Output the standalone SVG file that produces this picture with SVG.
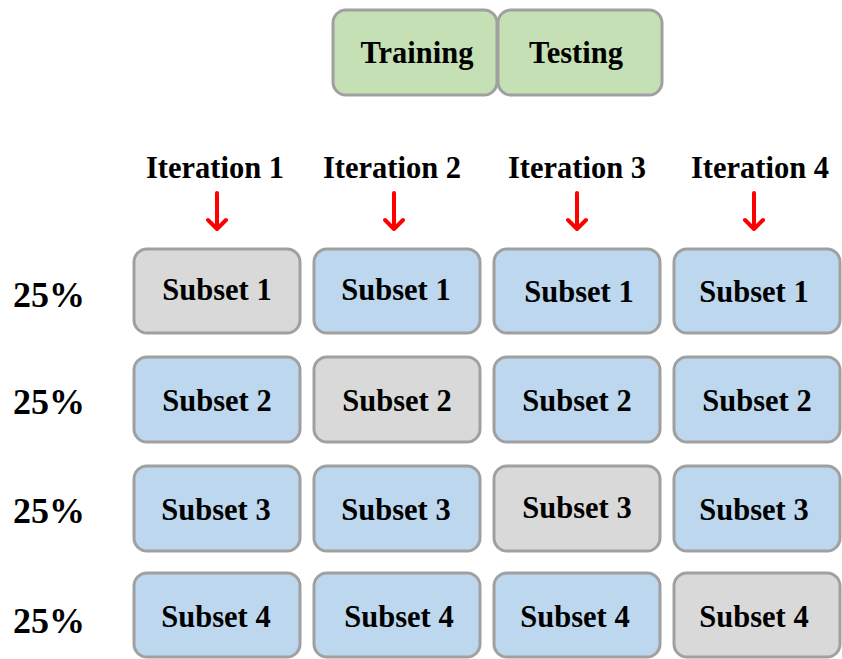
<svg xmlns="http://www.w3.org/2000/svg" width="842" height="659" viewBox="0 0 842 659">
<style>
.box{stroke:#a0a0a0;stroke-width:3}
.tr{fill:#c5e0b4}
.bl{fill:#bdd7ee}
.gr{fill:#d9d9d9}
text{font-family:"Liberation Serif","Times New Roman",serif;font-weight:bold;fill:#000;text-anchor:middle}
.t{font-size:30.5px}
.p{font-size:36px;text-anchor:start}
.arr{stroke:#ff0000;stroke-width:4;fill:none;stroke-linecap:round;stroke-linejoin:round}
</style>
<rect width="842" height="659" fill="#fff"/>
<g id="legend-training"><rect class="box tr" x="333" y="10" width="164" height="85" rx="13"/><text class="t" x="417" y="63">Training</text></g>
<g id="legend-testing"><rect class="box tr" x="498" y="10" width="164" height="85" rx="13"/><text class="t" x="576" y="63">Testing</text></g>
<g id="iter-labels">
<text class="t" x="215" y="178">Iteration 1</text>
<text class="t" x="392" y="178">Iteration 2</text>
<text class="t" x="577" y="178">Iteration 3</text>
<text class="t" x="760" y="178">Iteration 4</text>
</g>
<g id="connectors">
<path class="arr" d="M217 193V229M208 220L217 229L226 220"/>
<path class="arr" d="M394 193V229M385 220L394 229L403 220"/>
<path class="arr" d="M577 193V229M568 220L577 229L586 220"/>
<path class="arr" d="M754 193V229M745 220L754 229L763 220"/>
</g>
<g id="pct">
<text class="p" x="13" y="307">25%</text>
<text class="p" x="13" y="414">25%</text>
<text class="p" x="13" y="523">25%</text>
<text class="p" x="13" y="633">25%</text>
</g>
<g id="r1c1"><rect class="box gr" x="134" y="249" width="166" height="84" rx="13"/><text class="t" x="217" y="300">Subset 1</text></g>
<g id="r1c2"><rect class="box bl" x="314" y="249" width="166" height="84" rx="13"/><text class="t" x="396" y="300">Subset 1</text></g>
<g id="r1c3"><rect class="box bl" x="494" y="249" width="166" height="84" rx="13"/><text class="t" x="579" y="302">Subset 1</text></g>
<g id="r1c4"><rect class="box bl" x="674" y="249" width="166" height="84" rx="13"/><text class="t" x="754" y="302">Subset 1</text></g>
<g id="r2c1"><rect class="box bl" x="134" y="357" width="166" height="85" rx="13"/><text class="t" x="217" y="411">Subset 2</text></g>
<g id="r2c2"><rect class="box gr" x="314" y="357" width="166" height="85" rx="13"/><text class="t" x="397" y="411">Subset 2</text></g>
<g id="r2c3"><rect class="box bl" x="494" y="357" width="166" height="85" rx="13"/><text class="t" x="577" y="411">Subset 2</text></g>
<g id="r2c4"><rect class="box bl" x="674" y="357" width="166" height="85" rx="13"/><text class="t" x="757" y="411">Subset 2</text></g>
<g id="r3c1"><rect class="box bl" x="134" y="466" width="166" height="85" rx="13"/><text class="t" x="216" y="520">Subset 3</text></g>
<g id="r3c2"><rect class="box bl" x="314" y="466" width="166" height="85" rx="13"/><text class="t" x="396" y="520">Subset 3</text></g>
<g id="r3c3"><rect class="box gr" x="494" y="466" width="166" height="85" rx="13"/><text class="t" x="577" y="518">Subset 3</text></g>
<g id="r3c4"><rect class="box bl" x="674" y="466" width="166" height="85" rx="13"/><text class="t" x="754" y="520">Subset 3</text></g>
<g id="r4c1"><rect class="box bl" x="134" y="573" width="166" height="84" rx="13"/><text class="t" x="216" y="627">Subset 4</text></g>
<g id="r4c2"><rect class="box bl" x="314" y="573" width="166" height="84" rx="13"/><text class="t" x="399" y="627">Subset 4</text></g>
<g id="r4c3"><rect class="box bl" x="494" y="573" width="166" height="84" rx="13"/><text class="t" x="575" y="627">Subset 4</text></g>
<g id="r4c4"><rect class="box gr" x="674" y="573" width="166" height="84" rx="13"/><text class="t" x="754" y="627">Subset 4</text></g>
</svg>
